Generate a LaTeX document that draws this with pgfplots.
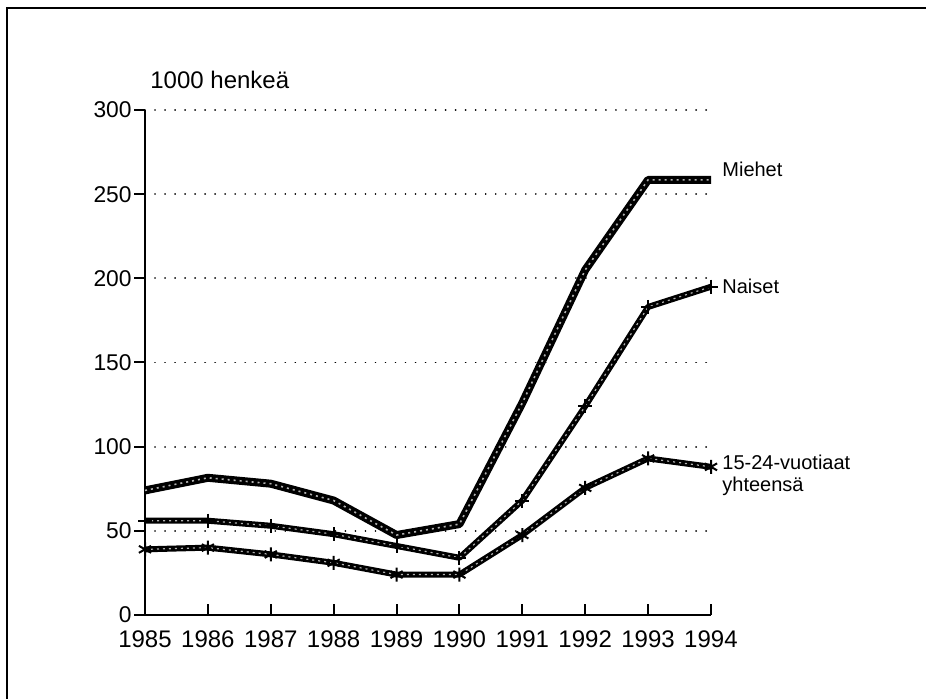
\documentclass[border=0pt]{standalone}
\usepackage{pgfplots}
\pgfplotsset{compat=1.18}
\usepackage{fontspec}
\setmainfont{Liberation Sans}
\begin{document}
\begin{tikzpicture}[x=1pt,y=1pt]
\useasboundingbox (0,0) rectangle (463,349.5);
\draw[line width=1pt] (3.5,-1) -- (3.5,345.5) -- (464,345.5);
\begin{axis}[
  scale only axis,
  width=283pt, height=252.5pt,
  at={(72.5pt,42pt)}, anchor=south west,
  xmin=1985, xmax=1994, ymin=0, ymax=300,
  axis x line*=bottom, axis y line*=left,
  axis line style={line width=1pt},
  xtick={1985,...,1994},
  ytick={0,50,...,300},
  /pgf/number format/assume math mode=true,
  xticklabel style={font=\fontsize{12}{14}\selectfont, /pgf/number format/1000 sep={}, yshift=-6.5pt, inner sep=1pt},
  yticklabel style={font=\fontsize{11.4}{13}\selectfont, inner sep=1pt},
  x tick style={line width=1pt, black},
  y tick style={line width=1pt, black},
  xtick align=inside, ytick align=outside,
  major tick length=5.5pt,
  ymajorgrids,
  grid style={black, line width=0.9pt, dash pattern=on 0.01pt off 5pt, line cap=round},
  clip=false,
]
\addplot[black, line width=4pt, line join=round] coordinates {
 (1985,74) (1986,81.5) (1987,78) (1988,68) (1989,47.5) (1990,54)
 (1991,126) (1992,205) (1993,258.5) (1994,258.5)};
\addplot[gray!60, line width=0.8pt, dash pattern=on 1pt off 2pt] coordinates {
 (1985,74) (1986,81.5) (1987,78) (1988,68) (1989,47.5) (1990,54)
 (1991,126) (1992,205) (1993,258.5) (1994,258.5)};
\addplot[black, line width=3pt, line join=round, mark=+, mark size=3.5pt, mark options={line width=1pt}] coordinates {
 (1985,56) (1986,56) (1987,53) (1988,48) (1989,41) (1990,34)
 (1991,68) (1992,124) (1993,183) (1994,195)};
\addplot[gray!60, line width=0.6pt, dash pattern=on 1pt off 2pt] coordinates {
 (1985,56) (1986,56) (1987,53) (1988,48) (1989,41) (1990,34)
 (1991,68) (1992,124) (1993,183) (1994,195)};
\addplot[black, line width=3pt, line join=round, mark=asterisk, mark size=3.5pt, mark options={line width=1pt}] coordinates {
 (1985,39) (1986,40) (1987,36) (1988,31) (1989,24) (1990,24)
 (1991,47.5) (1992,75.5) (1993,93) (1994,88)};
\addplot[gray!60, line width=0.6pt, dash pattern=on 1pt off 2pt] coordinates {
 (1985,39) (1986,40) (1987,36) (1988,31) (1989,24) (1990,24)
 (1991,47.5) (1992,75.5) (1993,93) (1994,88)};
\node[anchor=west, inner sep=0pt, font=\fontsize{10}{11}\selectfont] at (axis cs:1994,265) [xshift=5.5pt] {Miehet};
\node[anchor=west, inner sep=0pt, font=\fontsize{10}{11}\selectfont] at (axis cs:1994,195) [xshift=5.5pt] {Naiset};
\node[anchor=west, inner sep=0pt, align=left, font=\fontsize{10}{11}\selectfont] at (axis cs:1994,83) [xshift=5.5pt] {15-24-vuotiaat\\yhteensä};
\end{axis}
\node[anchor=west, inner sep=0pt, font=\fontsize{12}{14}\selectfont] at (75,309.5) {1000 henkeä};
\end{tikzpicture}
\end{document}
